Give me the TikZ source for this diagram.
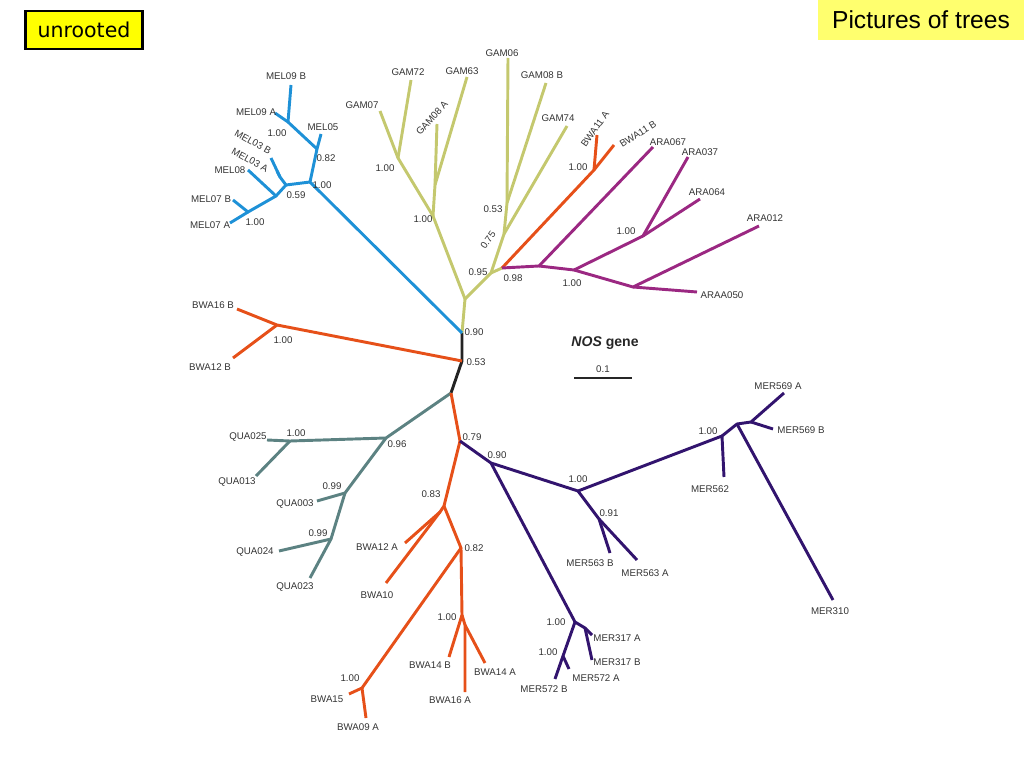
\documentclass[tikz,border=0pt]{standalone}
\usepackage{fontspec}
\setmainfont{Liberation Sans}
\newfontfamily\hdrfont{DejaVu Sans}
\usetikzlibrary{positioning}

\definecolor{melblue}{RGB}{30,145,215}
\definecolor{gamolive}{RGB}{196,200,110}
\definecolor{bwaorange}{RGB}{230,80,25}
\definecolor{aramagenta}{RGB}{155,40,130}
\definecolor{merindigo}{RGB}{50,20,110}
\definecolor{quateal}{RGB}{92,130,130}
\definecolor{stemblack}{RGB}{35,35,35}
\definecolor{tagyellow}{RGB}{255,255,0}
\definecolor{titleyellow}{RGB}{255,255,110}

\begin{document}
\begin{tikzpicture}[
    x=0.03cm, y=-0.03cm,
    br/.style={line width=2.5pt, line join=round},
    lab/.style={font=\fontsize{8.3}{9}\selectfont, text=black!80, inner sep=0pt},
    supp/.style={font=\fontsize{8.3}{9}\selectfont, text=black!80, inner sep=0pt},
]
\useasboundingbox (0,0) rectangle (1024,768);

% headers
\node[draw, line width=2pt, fill=tagyellow, minimum width=3.5cm, minimum height=1.15cm,
      font=\hdrfont\fontsize{17.5}{20}\selectfont] (tag) at (84,30) {unrooted};
\node[fill=titleyellow, minimum width=6.2cm, minimum height=1.23cm,
      font=\fontsize{21}{24}\selectfont] (title) at (921,20) {Pictures of trees};

% stem
\coordinate (r1) at (462,333);
\coordinate (r2) at (462,361);
\coordinate (r3) at (451,393);
\draw[br, stemblack] (r1) -- (r2) -- (r3);

% GAM clade
\coordinate (g0) at (465,299);
\coordinate (g1) at (433,216);
\coordinate (g2) at (398,158);
\coordinate (g3) at (435,185);
\coordinate (g4) at (491,273);
\coordinate (g5) at (504,234);
\coordinate (g6) at (507,203);
\coordinate (n98) at (502,268);
\coordinate (gam07) at (380,111);
\coordinate (gam72) at (411,80);
\coordinate (gam08a) at (437,124);
\coordinate (gam63) at (467,77);
\coordinate (gam74) at (567,126);
\coordinate (gam06) at (508,58);
\coordinate (gam08b) at (546,83);
\draw[br, gamolive] (r1) -- (g0) -- (g1) -- (g2) -- (gam07);
\draw[br, gamolive] (g2) -- (gam72);
\draw[br, gamolive] (g1) -- (g3) -- (gam08a);
\draw[br, gamolive] (g3) -- (gam63);
\draw[br, gamolive] (g0) -- (g4) -- (g5) -- (g6) -- (gam06);
\draw[br, gamolive] (g6) -- (gam08b);
\draw[br, gamolive] (g5) -- (gam74);
\draw[br, gamolive] (g4) -- (n98);

% BWA11 pair
\coordinate (b11) at (594,170);
\coordinate (bwa11a) at (597,135);
\coordinate (bwa11b) at (614,145);
\draw[br, bwaorange] (n98) -- (b11) -- (bwa11a);
\draw[br, bwaorange] (b11) -- (bwa11b);

% ARA clade
\coordinate (a1) at (539,266);
\coordinate (a2) at (574,270);
\coordinate (a3) at (643,236);
\coordinate (a4) at (633,287);
\coordinate (ara067) at (653,147);
\coordinate (ara037) at (688,157);
\coordinate (ara064) at (700,199);
\coordinate (ara012) at (759,226);
\coordinate (araa050) at (697,292);
\draw[br, aramagenta] (n98) -- (a1) -- (ara067);
\draw[br, aramagenta] (a1) -- (a2) -- (a3) -- (ara037);
\draw[br, aramagenta] (a3) -- (ara064);
\draw[br, aramagenta] (a2) -- (a4) -- (ara012);
\draw[br, aramagenta] (a4) -- (araa050);

% MEL clade
\coordinate (m1) at (310,182);
\coordinate (m2) at (317,149);
\coordinate (m3) at (288,122);
\coordinate (m4) at (286,185);
\coordinate (m5) at (280,177);
\coordinate (m6) at (276,196);
\coordinate (m7) at (248,212);
\coordinate (mel05) at (321,134);
\coordinate (mel09a) at (275,113);
\coordinate (mel09b) at (291,85);
\coordinate (mel03b) at (271,158);
\coordinate (mel03a) at (277,171);
\coordinate (mel08) at (248,170);
\coordinate (mel07b) at (233,200);
\coordinate (mel07a) at (230,223);
\draw[br, melblue] (r1) -- (m1) -- (m2) -- (mel05);
\draw[br, melblue] (m2) -- (m3) -- (mel09a);
\draw[br, melblue] (m3) -- (mel09b);
\draw[br, melblue] (m1) -- (m4) -- (m5) -- (mel03b);
\draw[br, melblue] (m5) -- (mel03a);
\draw[br, melblue] (m4) -- (m6) -- (mel08);
\draw[br, melblue] (m6) -- (m7) -- (mel07b);
\draw[br, melblue] (m7) -- (mel07a);

% BWA16B / BWA12B
\coordinate (b1) at (277,325);
\coordinate (bwa16b) at (237,309);
\coordinate (bwa12b) at (233,358);
\draw[br, bwaorange] (r2) -- (b1) -- (bwa16b);
\draw[br, bwaorange] (b1) -- (bwa12b);

% QUA clade
\coordinate (q1) at (386,438);
\coordinate (q2) at (290,441);
\coordinate (q3) at (345,493);
\coordinate (q4) at (331,539);
\coordinate (qua025) at (267,440);
\coordinate (qua013) at (256,476);
\coordinate (qua003) at (317,501);
\coordinate (qua024) at (279,551);
\coordinate (qua023) at (310,578);
\draw[br, quateal] (r3) -- (q1) -- (q2) -- (qua025);
\draw[br, quateal] (q2) -- (qua013);
\draw[br, quateal] (q1) -- (q3) -- (qua003);
\draw[br, quateal] (q3) -- (q4) -- (qua024);
\draw[br, quateal] (q4) -- (qua023);

% lower BWA clade
\coordinate (o1) at (460,441);
\coordinate (o2) at (444,506);
\coordinate (o3) at (440,512);
\coordinate (o4) at (461,548);
\coordinate (o5) at (362,688);
\coordinate (o6) at (462,615);
\coordinate (o7) at (465,625);
\coordinate (bwa12a) at (405,543);
\coordinate (bwa10) at (386,583);
\coordinate (bwa15) at (349,694);
\coordinate (bwa09a) at (366,718);
\coordinate (bwa14b) at (449,657);
\coordinate (bwa16a) at (465,692);
\coordinate (bwa14a) at (485,663);
\draw[br, bwaorange] (r3) -- (o1) -- (o2) -- (o3) -- (bwa12a);
\draw[br, bwaorange] (o3) -- (bwa10);
\draw[br, bwaorange] (o2) -- (o4) -- (o5) -- (bwa15);
\draw[br, bwaorange] (o5) -- (bwa09a);
\draw[br, bwaorange] (o4) -- (o6) -- (bwa14b);
\draw[br, bwaorange] (o6) -- (o7) -- (bwa16a);
\draw[br, bwaorange] (o7) -- (bwa14a);

% MER clade
\coordinate (e1) at (491,463);
\coordinate (e2) at (578,491);
\coordinate (e3) at (722,436);
\coordinate (e4) at (737,424);
\coordinate (e5) at (751,422);
\coordinate (e6) at (599,519);
\coordinate (e7) at (575,622);
\coordinate (e8) at (585,628);
\coordinate (e9) at (563,656);
\coordinate (mer562) at (724,477);
\coordinate (mer569a) at (784,393);
\coordinate (mer569b) at (773,429);
\coordinate (mer310) at (833,600);
\coordinate (mer563b) at (610,553);
\coordinate (mer563a) at (637,560);
\coordinate (mer317a) at (592,635);
\coordinate (mer317b) at (592,660);
\coordinate (mer572b) at (555,679);
\coordinate (mer572a) at (569,669);
\draw[br, merindigo] (o1) -- (e1) -- (e2) -- (e3) -- (mer562);
\draw[br, merindigo] (e3) -- (e4) -- (e5) -- (mer569a);
\draw[br, merindigo] (e5) -- (mer569b);
\draw[br, merindigo] (e4) -- (mer310);
\draw[br, merindigo] (e2) -- (e6) -- (mer563b);
\draw[br, merindigo] (e6) -- (mer563a);
\draw[br, merindigo] (e1) -- (e7) -- (e8) -- (mer317a);
\draw[br, merindigo] (e8) -- (mer317b);
\draw[br, merindigo] (e7) -- (e9) -- (mer572b);
\draw[br, merindigo] (e9) -- (mer572a);

% leaf labels
\node[lab] (t-mel09b) at (286,76) {MEL09 B};
\node[lab] (t-mel09a) at (256,112) {MEL09 A};
\node[lab] (t-mel05) at (323,127) {MEL05};
\node[lab, rotate=-29] (t-mel03b) at (253,142) {MEL03 B};
\node[lab, rotate=-29] (t-mel03a) at (250,160) {MEL03 A};
\node[lab] (t-mel08) at (230,170) {MEL08};
\node[lab] (t-mel07b) at (211,199) {MEL07 B};
\node[lab] (t-mel07a) at (210,225) {MEL07 A};
\node[lab] (t-gam07) at (362,105) {GAM07};
\node[lab] (t-gam72) at (408,72) {GAM72};
\node[lab] (t-gam63) at (462,71) {GAM63};
\node[lab, rotate=48] (t-gam08a) at (432,118) {GAM08 A};
\node[lab] (t-gam06) at (502,53) {GAM06};
\node[lab] (t-gam08b) at (542,75) {GAM08 B};
\node[lab] (t-gam74) at (558,118) {GAM74};
\node[lab, rotate=55] (t-bwa11a) at (595,129) {BWA11 A};
\node[lab, rotate=32] (t-bwa11b) at (638,134) {BWA11 B};
\node[lab] (t-ara067) at (668,142) {ARA067};
\node[lab] (t-ara037) at (700,152) {ARA037};
\node[lab] (t-ara064) at (707,192) {ARA064};
\node[lab] (t-ara012) at (765,218) {ARA012};
\node[lab] (t-araa050) at (722,295) {ARAA050};
\node[lab] (t-bwa16b) at (213,305) {BWA16 B};
\node[lab] (t-bwa12b) at (210,367) {BWA12 B};
\node[lab] (t-qua025) at (248,437) {QUA025};
\node[lab] (t-qua013) at (237,482) {QUA013};
\node[lab] (t-qua003) at (295,504) {QUA003};
\node[lab] (t-qua024) at (255,552) {QUA024};
\node[lab] (t-qua023) at (295,587) {QUA023};
\node[lab] (t-bwa12a) at (377,547) {BWA12 A};
\node[lab] (t-bwa10) at (377,595) {BWA10};
\node[lab] (t-bwa14b) at (430,665) {BWA14 B};
\node[lab] (t-bwa14a) at (495,672) {BWA14 A};
\node[lab] (t-bwa16a) at (450,700) {BWA16 A};
\node[lab] (t-bwa15) at (327,699) {BWA15};
\node[lab] (t-bwa09a) at (358,727) {BWA09 A};
\node[lab] (t-mer569a) at (778,386) {MER569 A};
\node[lab] (t-mer569b) at (801,430) {MER569 B};
\node[lab] (t-mer562) at (710,489) {MER562};
\node[lab] (t-mer310) at (830,611) {MER310};
\node[lab] (t-mer563b) at (590,563) {MER563 B};
\node[lab] (t-mer563a) at (645,573) {MER563 A};
\node[lab] (t-mer317a) at (617,638) {MER317 A};
\node[lab] (t-mer317b) at (617,662) {MER317 B};
\node[lab] (t-mer572a) at (596,678) {MER572 A};
\node[lab] (t-mer572b) at (544,689) {MER572 B};

% support values
\node[supp] (s-m3) at (277,133) {1.00};
\node[supp] (s-m2) at (326,158) {0.82};
\node[supp] (s-m1) at (322,185) {1.00};
\node[supp] (s-m4) at (296,195) {0.59};
\node[supp] (s-m7) at (255,222) {1.00};
\node[supp] (s-g2) at (385,168) {1.00};
\node[supp] (s-g1) at (423,219) {1.00};
\node[supp] (s-g6) at (493,209) {0.53};
\node[supp, rotate=55] (s-g5) at (488,240) {0.75};
\node[supp] (s-g4) at (478,272) {0.95};
\node[supp] (s-n98) at (513,278) {0.98};
\node[supp] (s-b11) at (578,167) {1.00};
\node[supp] (s-a3) at (626,231) {1.00};
\node[supp] (s-a2) at (572,283) {1.00};
\node[supp] (s-b1) at (283,340) {1.00};
\node[supp] (s-r1) at (474,332) {0.90};
\node[supp] (s-r2) at (476,362) {0.53};
\node[supp] (s-q2) at (296,433) {1.00};
\node[supp] (s-q1) at (397,444) {0.96};
\node[supp] (s-q3) at (332,486) {0.99};
\node[supp] (s-q4) at (318,533) {0.99};
\node[supp] (s-o1) at (472,437) {0.79};
\node[supp] (s-o2) at (431,494) {0.83};
\node[supp] (s-o4) at (474,548) {0.82};
\node[supp] (s-o6) at (447,617) {1.00};
\node[supp] (s-o5) at (350,678) {1.00};
\node[supp] (s-e1) at (497,455) {0.90};
\node[supp] (s-e2) at (578,479) {1.00};
\node[supp] (s-e6) at (609,513) {0.91};
\node[supp] (s-e7) at (556,622) {1.00};
\node[supp] (s-e9) at (548,652) {1.00};
\node[supp] (s-e3) at (708,431) {1.00};

% gene name and scale bar
\node[font=\fontsize{12}{14}\selectfont\bfseries, text=black!85] (gene) at (605,343) {\textit{NOS} gene};
\coordinate (sb1) at (574,378);
\coordinate (sb2) at (632,378);
\draw[line width=1.8pt, black!85] (sb1) -- (sb2);
\node[supp] (scale) at (603,369) {0.1};
\end{tikzpicture}
\end{document}
